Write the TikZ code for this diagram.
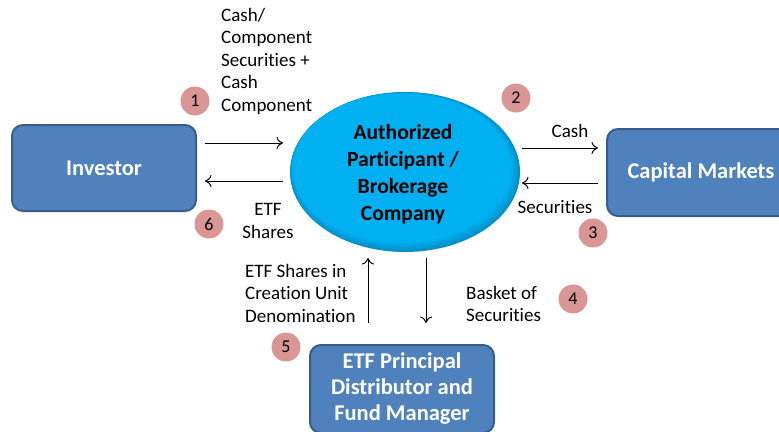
\documentclass[tikz,border=0pt]{standalone}
\usepackage{fontspec}
\setmainfont[Ligatures=NoCommon]{Carlito}
\usetikzlibrary{arrows.meta,positioning,shapes.geometric}
\definecolor{boxblue}{HTML}{4F81BD}
\definecolor{boxline}{HTML}{385D8A}
\definecolor{apcyan}{HTML}{00B0F0}
\definecolor{apdark}{HTML}{0878AE}
\definecolor{numpink}{HTML}{D99694}
\tikzset{
  box/.style={rectangle,rounded corners=11pt,draw=boxline,line width=2pt,fill=boxblue,
    text=white,font=\fontsize{22.5}{26}\selectfont\bfseries,align=center},
  num/.style={circle,fill=numpink,minimum size=29pt,inner sep=0pt,font=\fontsize{18}{20}\selectfont},
  lbl/.style={font=\fontsize{19}{22.5}\selectfont,align=left,inner sep=0pt},
  flow/.style={-{To[length=6.5pt,width=12pt]},line width=1pt}
}
\begin{document}
\begin{tikzpicture}[x=1pt,y=-1pt]
\useasboundingbox (0,0) rectangle (779,431);
\clip (0,0) rectangle (779,431);
% boxes
\node (inv) [box,minimum width=184pt,minimum height=86pt] at (104,168) {Investor};
\node (cap) [box,minimum width=188pt,minimum height=87pt] at (701,172.5) {Capital Markets};
\node (etf) [box,minimum width=184pt,minimum height=88pt] at (402,389) {ETF Principal\\Distributor and\\Fund Manager};
% the ellipse, with a soft dark rim at the lower right
\foreach \i in {0,...,6}{
  \pgfmathsetmacro{\mix}{40+\i*10}
  \fill[apcyan!\mix!apdark] (405-\i*0.5,172-\i*0.6) ellipse ({115-\i*0.9} and {80-\i*0.9});
}
\node (ap) [ellipse,minimum width=230pt,minimum height=160pt,inner sep=0pt,
  font=\fontsize{21.6}{27}\selectfont\bfseries,align=center] at (403,174)
  {Authorized\\Participant /\\Brokerage\\Company};
% arrows
\coordinate (a1) at (205,143);
\coordinate (a2) at (283,143);
\coordinate (b1) at (283,181);
\coordinate (b2) at (205,181);
\coordinate (c1) at (522,148);
\coordinate (c2) at (598,148);
\coordinate (d1) at (598,183);
\coordinate (d2) at (522,183);
\coordinate (e1) at (368,323);
\coordinate (e2) at (368,258);
\coordinate (f1) at (426,258);
\coordinate (f2) at (426,323);
\draw[flow] (a1) -- (a2);
\draw[flow] (b1) -- (b2);
\draw[flow] (c1) -- (c2);
\draw[flow] (d1) -- (d2);
\draw[flow] (e1) -- (e2);
\draw[flow] (f1) -- (f2);
% labels
\node (l1) [lbl,anchor=west] at (221,61) {Cash/\\Component\\Securities +\\Cash\\Component};
\node (l2) [lbl] at (570,131) {Cash};
\node (l3) [lbl] at (555,207) {Securities};
\node (l6) [lbl,align=center] at (268,221) {ETF\\Shares};
\node (l5) [lbl,anchor=west] at (245,293) {ETF Shares in\\Creation Unit\\Denomination};
\node (l4) [lbl,anchor=west] at (466,304) {Basket of\\Securities};
% step numbers
\node (n1) [num] at (195,101) {1};
\node (n2) [num] at (516,98) {2};
\node (n3) [num] at (593,233) {3};
\node (n4) [num] at (573,299) {4};
\node (n5) [num] at (286,347) {5};
\node (n6) [num] at (209,224) {6};
\end{tikzpicture}
\end{document}
